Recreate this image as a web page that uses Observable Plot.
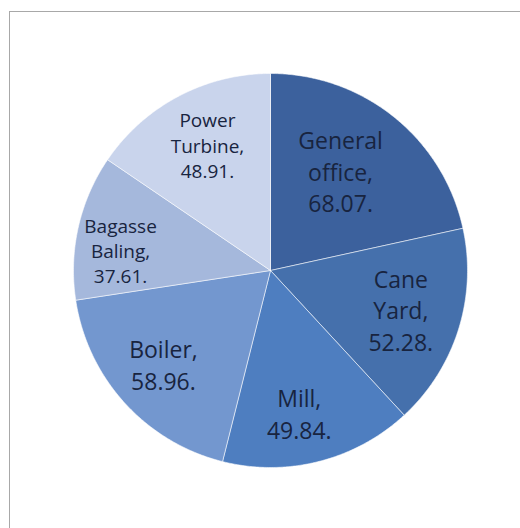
<!DOCTYPE html>
<html>
<head>
<meta charset="utf-8">
<script src="https://cdn.jsdelivr.net/npm/d3@7"></script>
<script src="https://cdn.jsdelivr.net/npm/@observablehq/plot@0.6"></script>
<style>
  html, body { margin: 0; padding: 0; background: #ffffff; overflow: hidden; }
  #wrap { position: relative; width: 520px; height: 528px; overflow: hidden; background: #fff; }
  #frame { position: absolute; left: 9px; top: 11px; width: 700px; height: 700px;
           border-left: 1px solid #a8a8a8; border-top: 1px solid #a8a8a8; }
  #chart { position: absolute; left: 0; top: 0; }
</style>
</head>
<body>
<div id="wrap"><div id="frame"></div><div id="chart"></div></div>
<script>
// Data (clockwise from 12 o'clock)
const categories = ["General office", "Cane Yard", "Mill", "Boiler", "Bagasse Baling", "Power Turbine"];
const values = [68.07, 52.28, 49.84, 58.96, 37.61, 48.91];
const colors = ["#3c619d", "#4570ac", "#4e7ec0", "#7397cf", "#a5b8dc", "#c9d4ec"];

// Layout constants: label distance (fraction of radius) and angular nudge (degrees)
const labelRadius = [0.62, 0.69, 0.736, 0.72, 0.768, 0.715];
const labelShift = [-3.8, -0.9, 2.9, 1.3, -5.1, 1.3];
const smallLabels = ["Bagasse Baling", "Power Turbine"];

const W = 520, H = 528, cx = 270, cy = 270, R = 197;

const rows = categories.map((c, i) => ({name: c, value: values[i], idx: i}));
const arcs = d3.pie().sort(null).value(d => d.value).startAngle(0).endAngle(2 * Math.PI)(rows);

// Slice outlines in unit coordinates (derived from data angles)
const pts = [];
for (const a of arcs) {
  const name = a.data.name;
  pts.push({name, x: 0, y: 0});
  const n = Math.max(2, Math.ceil((a.endAngle - a.startAngle) / (Math.PI / 360)));
  for (let k = 0; k <= n; k++) {
    const t = a.startAngle + (a.endAngle - a.startAngle) * k / n;
    pts.push({name, x: Math.sin(t), y: Math.cos(t)});
  }
  pts.push({name, x: 0, y: 0});
}

const labels = arcs.map(a => {
  const i = a.data.idx;
  const mid = (a.startAngle + a.endAngle) / 2 + labelShift[i] * Math.PI / 180;
  const r = labelRadius[i];
  return {
    name: a.data.name,
    x: r * Math.sin(mid),
    y: r * Math.cos(mid),
    text: a.data.name.split(" ").join("\n") + ",\n" + a.data.value.toFixed(2) + "."
  };
});

const plot = Plot.plot({
  width: W,
  height: H,
  margin: 0,
  x: {domain: [-cx / R, (W - cx) / R], axis: null},
  y: {domain: [-(H - cy) / R, cy / R], axis: null},
  color: {domain: categories, range: colors},
  style: {background: "transparent", fontFamily: "'Open Sans', sans-serif"},
  marks: [
    Plot.line(pts, {x: "x", y: "y", z: "name", fill: "name", stroke: "#ffffff",
                    strokeWidth: 1, strokeOpacity: 0.55, curve: "linear"}),
    Plot.text(labels.filter(d => !smallLabels.includes(d.name)), {
      x: "x", y: "y", text: "text", fontSize: 23, lineHeight: 1.38, fontWeight: 500,
      fill: "#18243f", textAnchor: "middle"
    }),
    Plot.text(labels.filter(d => smallLabels.includes(d.name)), {
      x: "x", y: "y", text: "text", fontSize: 19, lineHeight: 1.32, fontWeight: 500,
      fill: "#18243f", textAnchor: "middle"
    })
  ]
});
document.getElementById("chart").appendChild(plot);
</script>
</body>
</html>
